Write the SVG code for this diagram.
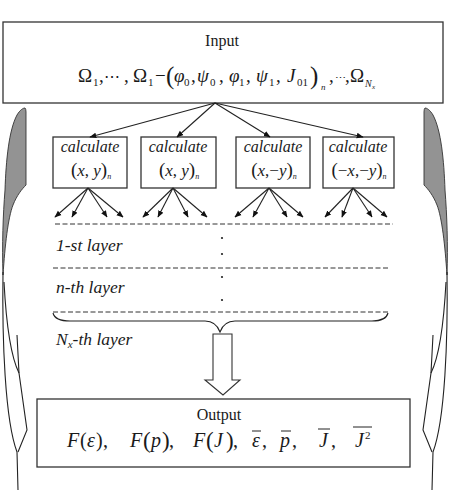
<svg xmlns="http://www.w3.org/2000/svg" width="459" height="493" viewBox="0 0 459 493">
<style>
text{font-family:"Liberation Serif","Times New Roman",serif;fill:#1a1a1a}
.it{font-style:italic}
.box{fill:#fff;stroke:#333;stroke-width:1.3}
.ln{fill:none;stroke:#222;stroke-width:1.1}
.dash{fill:none;stroke:#333;stroke-width:1;stroke-dasharray:5 2.5}
.bar{stroke:#222;stroke-width:1}
.sub{font-size:11px}
.calc{font-size:16px;font-style:italic}
.pair{font-size:17px}
.par{font-size:19px;font-style:normal}
</style>
<defs>
<marker id="ah" viewBox="0 0 10 10" refX="9" refY="5" markerWidth="7" markerHeight="7" markerUnits="userSpaceOnUse" orient="auto">
<path d="M0,1 L10,5 L0,9 Z" fill="#111"/>
</marker>
<g id="sideArrow">
<path d="M25,108 Q26,109 26,112 L26,185 C22,189 17,195 13,205 C8,218 5,245 3,275 C2,245 3,215 5,190 C6,160 9,130 17,115 C20,110 23,108 25,108 Z" fill="#939393" stroke="#333" stroke-width="0.9"/>
<path class="ln" d="M3,272 C2,340 5,420 17,452 L18,490"/>
<path class="ln" d="M4,282 C6,320 10,355 19,373"/>
<path class="ln" d="M17,335 L19,373 L27,430 L18,452"/>
</g>
</defs>

<g id="side-left"><use href="#sideArrow"/></g>
<g id="side-right"><use href="#sideArrow" transform="translate(450,0) scale(-1,1)"/></g>

<g id="input">
<rect class="box" x="3" y="22" width="440" height="81"/>
<text x="222" y="46" font-size="16" text-anchor="middle">Input</text>
<text y="82" font-size="19">
<tspan x="78">Ω</tspan><tspan x="93" dy="4" class="sub">1</tspan><tspan x="99" dy="-4">,</tspan><tspan x="104" font-family="DejaVu Serif" font-size="16">⋯</tspan><tspan x="124">,</tspan>
<tspan x="133">Ω</tspan><tspan x="148" dy="4" class="sub">1</tspan><tspan x="155" dy="-4">−</tspan><tspan x="166" font-size="25" dy="2">(</tspan>
<tspan x="174" dy="-2" class="it">φ</tspan><tspan x="184" dy="4" class="sub">0</tspan><tspan x="191" dy="-4">,</tspan>
<tspan x="197" class="it">ψ</tspan><tspan x="210" dy="4" class="sub">0</tspan><tspan x="219" dy="-4">,</tspan>
<tspan x="229" class="it">φ</tspan><tspan x="239" dy="4" class="sub">1</tspan><tspan x="246" dy="-4">,</tspan>
<tspan x="256" class="it">ψ</tspan><tspan x="269" dy="4" class="sub">1</tspan><tspan x="276" dy="-4">,</tspan>
<tspan x="287" class="it">J</tspan><tspan x="297" dy="4" class="sub">01</tspan><tspan x="310" font-size="25" dy="-2">)</tspan><tspan x="321" dy="6" font-size="9" class="it">n</tspan>
<tspan x="329" dy="-8">,</tspan><tspan x="335" font-family="DejaVu Serif" font-size="11">⋯</tspan><tspan x="345">,</tspan>
<tspan x="350">Ω</tspan><tspan x="365" dy="5" font-size="10" class="it">N</tspan><tspan x="372" dy="2" font-size="7" class="it">x</tspan>
</text>
</g>

<g id="calc1">
<rect class="box" x="53" y="137" width="74" height="51"/>
<text x="90" y="152" class="calc" text-anchor="middle">calculate</text>
<text x="91" y="176" class="pair" text-anchor="middle"><tspan class="par">(</tspan><tspan class="it">x</tspan>, <tspan class="it">y</tspan><tspan class="par">)</tspan><tspan dy="3" font-size="8" class="it">n</tspan></text>
</g>
<g id="calc2">
<rect class="box" x="141" y="137" width="75" height="51"/>
<text x="178" y="152" class="calc" text-anchor="middle">calculate</text>
<text x="179" y="176" class="pair" text-anchor="middle"><tspan class="par">(</tspan><tspan class="it">x</tspan>, <tspan class="it">y</tspan><tspan class="par">)</tspan><tspan dy="3" font-size="8" class="it">n</tspan></text>
</g>
<g id="calc3">
<rect class="box" x="236" y="137" width="74" height="51"/>
<text x="273" y="152" class="calc" text-anchor="middle">calculate</text>
<text x="274" y="176" class="pair" text-anchor="middle"><tspan class="par">(</tspan><tspan class="it">x</tspan>,−<tspan class="it">y</tspan><tspan class="par">)</tspan><tspan dy="3" font-size="8" class="it">n</tspan></text>
</g>
<g id="calc4">
<rect class="box" x="323" y="137" width="71" height="51"/>
<text x="358" y="152" class="calc" text-anchor="middle">calculate</text>
<text x="359" y="176" class="pair" text-anchor="middle"><tspan class="par">(</tspan>−<tspan class="it">x</tspan>,−<tspan class="it">y</tspan><tspan class="par">)</tspan><tspan dy="3" font-size="8" class="it">n</tspan></text>
</g>

<g id="connectors">
<line class="ln" x1="215" y1="103" x2="90" y2="137" marker-end="url(#ah)"/>
<line class="ln" x1="215" y1="103" x2="177" y2="137" marker-end="url(#ah)"/>
<line class="ln" x1="215" y1="103" x2="270" y2="137" marker-end="url(#ah)"/>
<line class="ln" x1="215" y1="103" x2="363" y2="137" marker-end="url(#ah)"/>

<line class="ln" x1="88" y1="188" x2="55" y2="217" marker-end="url(#ah)"/>
<line class="ln" x1="88" y1="188" x2="72" y2="217" marker-end="url(#ah)"/>
<line class="ln" x1="88" y1="188" x2="107" y2="217" marker-end="url(#ah)"/>
<line class="ln" x1="88" y1="188" x2="123" y2="217" marker-end="url(#ah)"/>

<line class="ln" x1="173" y1="188" x2="143" y2="217" marker-end="url(#ah)"/>
<line class="ln" x1="173" y1="188" x2="158" y2="217" marker-end="url(#ah)"/>
<line class="ln" x1="173" y1="188" x2="188" y2="217" marker-end="url(#ah)"/>
<line class="ln" x1="173" y1="188" x2="207" y2="217" marker-end="url(#ah)"/>

<line class="ln" x1="269" y1="188" x2="235" y2="217" marker-end="url(#ah)"/>
<line class="ln" x1="269" y1="188" x2="253" y2="217" marker-end="url(#ah)"/>
<line class="ln" x1="269" y1="188" x2="287" y2="217" marker-end="url(#ah)"/>
<line class="ln" x1="269" y1="188" x2="303" y2="217" marker-end="url(#ah)"/>

<line class="ln" x1="353" y1="188" x2="325" y2="217" marker-end="url(#ah)"/>
<line class="ln" x1="353" y1="188" x2="342" y2="217" marker-end="url(#ah)"/>
<line class="ln" x1="353" y1="188" x2="372" y2="217" marker-end="url(#ah)"/>
<line class="ln" x1="353" y1="188" x2="387" y2="217" marker-end="url(#ah)"/>
</g>

<g id="layers">
<line class="dash" x1="55" y1="224" x2="393" y2="224"/>
<text x="56" y="251" font-size="17.5" class="it">1-st layer</text>
<circle cx="222" cy="238" r="1.1" fill="#222"/>
<circle cx="222" cy="254" r="1.1" fill="#222"/>
<line class="dash" x1="53" y1="268" x2="388" y2="268"/>
<text x="56" y="293" font-size="17.5" class="it">n-th layer</text>
<circle cx="222" cy="277" r="1.1" fill="#222"/>
<circle cx="222" cy="300" r="1.1" fill="#222"/>
<line class="dash" x1="53" y1="312" x2="388" y2="312"/>
<path class="ln" d="M53,313 Q55,321 70,321 L205,321 Q216,321 220,332 Q224,321 235,321 L372,321 Q386,321 388,313"/>
<text x="56" y="345" font-size="17.5" class="it">N<tspan dy="3" font-size="11">x</tspan><tspan dy="-3">-th layer</tspan></text>
<path d="M213,334 L232,334 L232,380 L240,380 L223,395 L205,380 L213,380 Z" fill="#fff" stroke="#333" stroke-width="1.1"/>
</g>

<g id="output">
<rect class="box" x="37" y="399" width="373" height="68"/>
<text x="219" y="420" font-size="16" text-anchor="middle">Output</text>
<text y="447" font-size="20">
<tspan x="67" class="it">F</tspan><tspan x="80">(</tspan><tspan x="87" class="it">ε</tspan><tspan x="96">)</tspan><tspan x="103">,</tspan>
<tspan x="130" class="it">F</tspan><tspan x="143" font-size="23" dy="1">(</tspan><tspan x="151" dy="-1" class="it">p</tspan><tspan x="162" font-size="23" dy="1">)</tspan><tspan x="169" dy="-1">,</tspan>
<tspan x="193" class="it">F</tspan><tspan x="206" font-size="23" dy="1">(</tspan><tspan x="214" dy="-1" class="it">J</tspan><tspan x="226" font-size="23" dy="1">)</tspan><tspan x="233" dy="-1">,</tspan>
<tspan x="252" class="it">ε</tspan><tspan x="262">,</tspan>
<tspan x="280" class="it">p</tspan><tspan x="292">,</tspan>
<tspan x="319" class="it">J</tspan><tspan x="331">,</tspan>
<tspan x="355" class="it">J</tspan><tspan x="365" dy="-8" font-size="11">2</tspan>
</text>
<line class="bar" x1="252" y1="431" x2="261" y2="431"/>
<line class="bar" x1="281" y1="431" x2="291" y2="431"/>
<line class="bar" x1="318" y1="429" x2="330" y2="429"/>
<line class="bar" x1="353" y1="427" x2="372" y2="427"/>
</g>
</svg>
